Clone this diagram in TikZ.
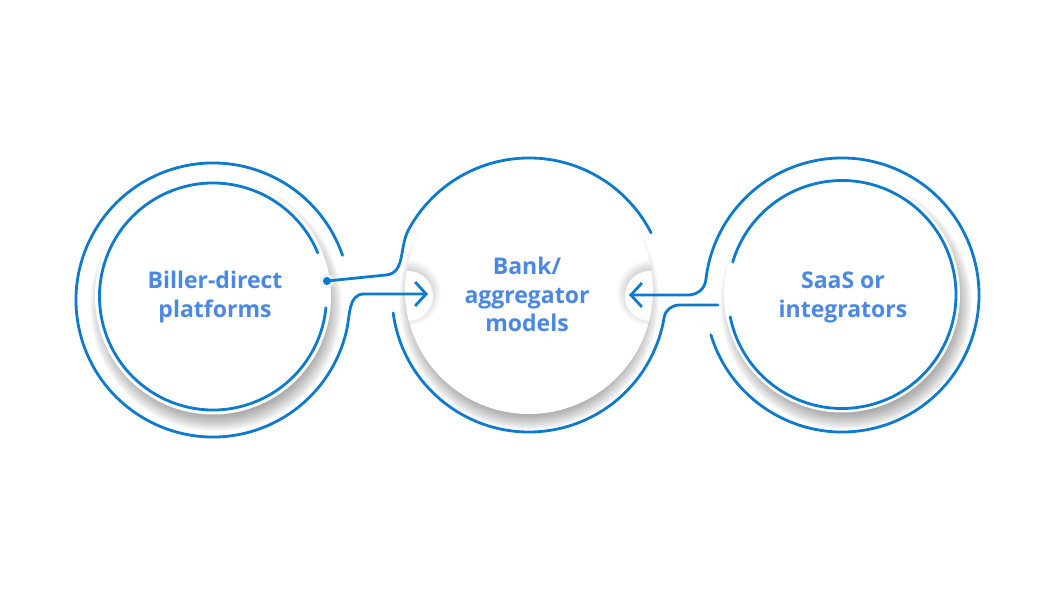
\documentclass[tikz,border=0pt]{standalone}
\usepackage{fontspec}
\newfontfamily\labelfont{Open Sans}
\usepackage{tikz}
\usetikzlibrary{
  calc,%
  arrows.meta
}
\definecolor{ringblue}{RGB}{14,122,207}
\definecolor{textblue}{RGB}{74,136,228}
\tikzset{>={Straight Barb[length=11pt, width=24pt]}}
\tikzset{ring/.style={draw=ringblue, line width=2.8pt, line cap=round}}
\tikzset{itemtext/.style={text=textblue, align=center,
    font=\labelfont\bfseries\fontsize{23}{28.5}\selectfont}}

\begin{document}
\begin{tikzpicture}[x=1pt, y=1pt]
  \useasboundingbox (0,0) rectangle (1050,600);
  % ring centres
  \coordinate (cBo) at (213, 300);
  \coordinate (cBi) at (213, 303.5);
  \coordinate (cM) at (529, 305);
  \coordinate (cMd) at (529, 310);
  \coordinate (cSo) at (842, 305);
  \coordinate (cSi) at (842, 305.5);
  % connector ends
  \coordinate (dot) at (327, 319);
  \coordinate (inL) at (428, 306);
  \coordinate (inR) at (629, 305);
  \coordinate (endS) at (718, 295);
  \coordinate (notchL) at (408, 304);
  \coordinate (notchR) at (650, 304);

  % soft shadows
  \foreach \k in {108,...,126}
    \fill[black, opacity=0.024] ($(cBi)+(3,-9)$) circle (\k);
  \foreach \k in {108,...,126}
    \fill[black, opacity=0.024] ($(cSi)+(4,-9)$) circle (\k);
  \foreach \k in {114,...,130}
    \fill[black, opacity=0.024] ($(cMd)+(0,-10)$) circle (\k);
  \fill[white] (cBi) circle (118);
  \fill[white] (cSi) circle (118);
  \fill[white] (cMd) circle (124);

  % bites in the middle disc
  \begin{scope}
    \clip (cMd) circle (124);
    \foreach \k in {24,...,33} {
      \fill[black, opacity=0.016] ($(notchL)+(0,3)$) circle (\k);
      \fill[black, opacity=0.016] ($(notchR)+(0,3)$) circle (\k);
    }
    \fill[white] (notchL) circle (25);
    \fill[white] (notchR) circle (25);
  \end{scope}

  % inner rings
  \draw[ring] ($(cBi)+(22.6:113.5)$) arc[start angle=22.6, end angle=354.3, radius=113.5];
  \draw[ring] ($(cSi)+(191.3:114)$) arc[start angle=191.3, end angle=523.5, radius=114];

  % biller -> bank, upper line into the middle ring
  \fill[ringblue!10] (dot) circle (7);
  \draw[ring] (dot) -- (386, 325) to[out=5, in=241.7] ($(cM)+(151.7:137)$)
    arc[start angle=151.7, end angle=27, radius=137];
  \fill[ringblue] (dot) circle (4);
  % biller outer ring -> bank
  \draw[ring, ->] ($(cBo)+(19:137)$) arc[start angle=19, end angle=347.5, radius=137]
    to[out=77.5, in=180] (364, 306) -- (inL);
  % bank lower ring -> saas
  \draw[ring] ($(cM)+(187.5:137)$) arc[start angle=187.5, end angle=350.6, radius=137]
    to[out=80.6, in=180] (680, 295) -- (endS);
  % saas outer ring -> bank
  \draw[ring, ->] ($(cSo)+(196.9:137)$) arc[start angle=196.9, end angle=533.7, radius=137]
    to[out=263.7, in=0] (688, 305) -- (inR);

  % texts
  \node[itemtext] (biller) at (215, 303) {Biller-direct\\platforms};
  \node[itemtext] (bank) at (527, 305.5) {Bank/\\aggregator\\models};
  \node[itemtext] (saas) at (843, 302.5) {SaaS or\\integrators};
\end{tikzpicture}
\end{document}
